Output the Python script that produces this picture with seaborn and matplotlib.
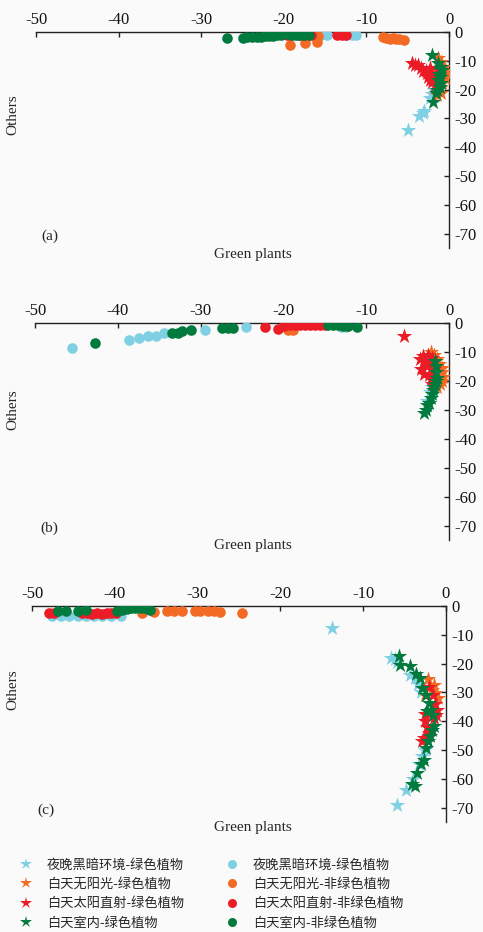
import matplotlib
matplotlib.use("Agg")
import matplotlib.pyplot as plt
from matplotlib.lines import Line2D
import seaborn as sns

# ---- data ----
# panel (a)
a_night_star_x = [-5.0, -3.6, -3.2, -3.0, -2.3, -2.0, -1.8, -1.6]
a_night_star_y = [-34.0, -29.0, -28.0, -27.5, -23.0, -21.5, -20.0, -19.0]
a_nosun_star_x = [-1.3, -1.0, -0.6, -0.4, -0.3, -0.5, -0.8, -1.1, -1.0, -1.4]
a_nosun_star_y = [-9.2, -10.5, -12.0, -13.5, -14.5, -16.0, -17.8, -19.5, -21.3, -22.0]
a_sun_star_x = [-4.5, -4.1, -3.7, -3.4, -3.1, -2.8, -2.7, -2.3, -2.5, -2.3, -2.1, -1.9, -1.7, -2.0, -1.5]
a_sun_star_y = [-10.9, -11.5, -11.4, -12.4, -13.7, -13.5, -14.3, -12.6, -15.5, -16.5, -17.2, -16.0, -18.4, -14.5, -13.0]
a_indoor_star_x = [-2.1, -1.3, -1.0, -0.9, -1.2, -1.1, -1.3, -1.0, -1.1, -1.5, -1.6, -1.9]
a_indoor_star_y = [-8.0, -10.9, -12.0, -13.2, -14.5, -15.5, -16.5, -17.8, -19.0, -20.1, -21.3, -24.2]

a_night_dot_x = [-18.5, -17.8, -17.0, -16.3, -15.5, -14.8, -12.5, -11.8, -11.2]
a_night_dot_y = [-1.0, -0.8, -0.8, -1.0, -1.0, -1.0, -1.0, -1.0, -1.0]
a_nosun_dot_x = [-19.2, -17.4, -16.0, -15.9, -8.0, -7.6, -7.2, -6.8, -6.4, -6.0, -5.5]
a_nosun_dot_y = [-4.5, -3.9, -3.3, -1.5, -1.6, -2.2, -2.4, -2.2, -2.3, -2.5, -2.8]
a_sun_dot_x = [-20.0, -19.6, -19.2, -18.8, -18.2, -17.5, -17.0, -16.7, -13.5, -13.0, -12.5]
a_sun_dot_y = [-0.8, -1.0, -1.0, -0.8, -1.2, -1.0, -0.8, -1.0, -1.0, -1.0, -1.0]
a_indoor_dot_x = [-26.9, -25.0, -24.5, -23.8, -23.3, -22.8, -22.3, -21.8, -21.3, -20.8, -20.3,
                  -19.5, -19.0, -18.5, -18.0, -17.5, -17.0]
a_indoor_dot_y = [-2.1, -2.0, -1.9, -1.8, -1.7, -1.6, -1.5, -1.4, -1.3, -1.2, -1.0,
                  -0.8, -1.0, -1.0, -1.0, -1.0, -1.0]

# panel (b)
b_night_star_x = [-2.3, -2.6, -2.0]
b_night_star_y = [-24.0, -27.0, -22.0]
b_nosun_star_x = [-2.2, -1.8, -1.5, -1.2, -0.9, -0.8, -0.7, -0.9, -1.1, -1.4, -1.6]
b_nosun_star_y = [-10.0, -11.0, -12.5, -14.0, -15.5, -17.0, -18.5, -20.0, -21.0, -22.0, -13.0]
b_sun_star_x = [-5.4, -3.5, -3.2, -2.8, -2.5, -3.4, -3.0, -2.7, -2.4, -2.2, -2.0, -2.3, -2.0, -1.8]
b_sun_star_y = [-4.5, -12.5, -11.5, -13.5, -11.0, -16.0, -17.5, -15.0, -18.0, -19.5, -21.0, -13.0, -12.0, -16.0]
b_indoor_star_x = [-1.7, -1.6, -1.6, -1.5, -1.6, -1.7, -1.8, -1.9, -2.0, -2.2, -2.4, -2.6, -2.8, -3.0]
b_indoor_star_y = [-13.0, -15.0, -17.0, -19.0, -20.0, -21.0, -22.0, -23.0, -24.5, -26.0, -27.5, -28.5, -30.0, -31.0]

b_night_dot_x = [-45.5, -38.6, -37.5, -36.3, -35.4, -34.4, -29.5, -24.5, -13.0, -12.5]
b_night_dot_y = [-8.8, -5.9, -5.1, -4.4, -4.5, -3.4, -2.4, -1.3, -1.5, -1.5]
b_nosun_dot_x = [-19.4, -18.8, -12.8, -12.3]
b_nosun_dot_y = [-2.4, -2.5, -0.8, -1.0]
b_sun_dot_x = [-22.2, -20.6, -19.9, -19.2, -18.6, -18.0, -17.4, -16.8, -16.2, -15.6, -15.0]
b_sun_dot_y = [-1.5, -2.2, -1.0, -0.7, -0.6, -0.6, -0.6, -0.6, -0.6, -0.6, -0.7]
b_indoor_dot_x = [-42.8, -33.5, -32.7, -32.2, -31.1, -27.4, -26.7, -26.1,
                  -14.6, -14.0, -13.4, -12.8, -12.2, -11.1]
b_indoor_dot_y = [-6.8, -3.6, -3.3, -2.9, -2.4, -1.8, -1.8, -1.6,
                  -0.7, -0.7, -0.8, -0.9, -0.9, -1.5]

# panel (c)
c_night_star_x = [-13.8, -6.7, -6.2, -5.9, -4.3, -3.7, -3.4, -3.0, -2.5, -2.9, -3.3, -4.0, -4.8, -5.9]
c_night_star_y = [-7.5, -18.0, -18.5, -19.5, -24.0, -25.0, -27.0, -30.0, -50.0, -52.0, -55.0, -60.0, -64.0, -69.0]
c_nosun_star_x = [-2.2, -1.7, -1.3, -2.5, -1.5, -1.0]
c_nosun_star_y = [-25.3, -29.0, -30.3, -31.0, -27.5, -32.0]
c_sun_star_x = [-2.1, -1.6, -1.3, -1.1, -2.5, -1.5, -2.3, -2.1, -2.7, -2.9, -1.2, -2.5]
c_sun_star_y = [-28.0, -31.0, -34.0, -36.0, -37.5, -39.0, -42.0, -44.0, -46.0, -47.0, -38.0, -40.0]
c_indoor_star_x = [-5.7, -5.5, -4.3, -3.6, -3.2, -2.9, -2.4, -2.1, -1.8, -2.3, -1.6, -1.5, -1.7, -1.9,
                   -2.2, -2.4, -2.7, -3.0, -3.5, -4.1, -3.8]
c_indoor_star_y = [-17.3, -20.5, -21.0, -23.5, -25.0, -28.5, -31.0, -33.7, -36.0, -36.5, -38.0, -41.8, -43.0,
                   -45.3, -47.0, -49.3, -53.4, -55.0, -58.0, -61.7, -62.5]

c_night_dot_x = [-47.6, -46.5, -45.5, -44.5, -43.5, -42.5, -41.5, -40.5, -39.3]
c_night_dot_y = [-3.5, -3.4, -3.5, -3.3, -3.5, -3.4, -3.5, -3.4, -3.3]
c_nosun_dot_x = [-36.7, -35.3, -33.7, -32.9, -31.9, -30.3, -29.7, -28.8, -28.0, -27.3, -24.6]
c_nosun_dot_y = [-2.5, -2.0, -1.6, -1.6, -1.6, -1.8, -1.8, -1.9, -1.9, -2.0, -2.3]
c_sun_dot_x = [-48.0, -47.3, -44.0, -43.4, -42.8, -42.2, -41.6, -41.0, -40.4, -39.9]
c_sun_dot_y = [-2.3, -2.5, -2.5, -2.6, -2.8, -2.6, -2.7, -2.5, -2.6, -2.4]
c_indoor_dot_x = [-46.8, -45.9, -44.4, -43.5, -39.7, -39.1, -38.5, -38.0, -37.5, -37.0, -36.5, -36.0, -35.7]
c_indoor_dot_y = [-1.8, -1.7, -1.6, -1.5, -1.8, -1.3, -1.0, -0.8, -0.8, -0.7, -0.8, -1.0, -1.3]

labels_star = ['夜晚黑暗环境-绿色植物', '白天无阳光-绿色植物', '白天太阳直射-绿色植物', '白天室内-绿色植物']
labels_dot = ['夜晚黑暗环境-绿色植物', '白天无阳光-非绿色植物', '白天太阳直射-非绿色植物', '白天室内-非绿色植物']
colors = ['#7fd0e2', '#f26a24', '#ec1c26', '#007a3d']
panel_tags = ['(a)', '(b)', '(c)']

panels = [
    ([(a_night_star_x, a_night_star_y), (a_nosun_star_x, a_nosun_star_y),
      (a_sun_star_x, a_sun_star_y), (a_indoor_star_x, a_indoor_star_y)],
     [(a_night_dot_x, a_night_dot_y), (a_nosun_dot_x, a_nosun_dot_y),
      (a_sun_dot_x, a_sun_dot_y), (a_indoor_dot_x, a_indoor_dot_y)]),
    ([(b_night_star_x, b_night_star_y), (b_nosun_star_x, b_nosun_star_y),
      (b_sun_star_x, b_sun_star_y), (b_indoor_star_x, b_indoor_star_y)],
     [(b_night_dot_x, b_night_dot_y), (b_nosun_dot_x, b_nosun_dot_y),
      (b_sun_dot_x, b_sun_dot_y), (b_indoor_dot_x, b_indoor_dot_y)]),
    ([(c_night_star_x, c_night_star_y), (c_nosun_star_x, c_nosun_star_y),
      (c_sun_star_x, c_sun_star_y), (c_indoor_star_x, c_indoor_star_y)],
     [(c_night_dot_x, c_night_dot_y), (c_nosun_dot_x, c_nosun_dot_y),
      (c_sun_dot_x, c_sun_dot_y), (c_indoor_dot_x, c_indoor_dot_y)]),
]

sns.set_style("white")
plt.rcParams['font.family'] = ['Liberation Serif', 'Noto Sans CJK SC']
plt.rcParams['axes.unicode_minus'] = False

bg = '#fafafa'
fig = plt.figure(figsize=(4.83, 9.32), dpi=100, facecolor=bg)
W, H = 483, 932
# axes boxes in pixels: left, top, right, bottom
boxes = [(36, 32, 449, 248), (35, 323, 449, 540), (32, 606, 446, 822)]
ylab_pos = [115, 410, 690]

for (stars, dots), (l, t, r, b), tag, ylp in zip(panels, boxes, panel_tags, ylab_pos):
    ax = fig.add_axes([l / W, 1 - b / H, (r - l) / W, (b - t) / H])
    ax.set_facecolor(bg)
    # circles first, stars over them, each in legend order
    for (x, y), c in zip(dots, colors):
        sns.scatterplot(x=x, y=y, ax=ax, marker='o', color=c, s=58, linewidth=0, zorder=3)
    for (x, y), c in zip(stars, colors):
        sns.scatterplot(x=x, y=y, ax=ax, marker='*', color=c, s=135, linewidth=0, zorder=4)
    ax.set_xlim(-50, 0)
    ax.set_ylim(-75, 0)
    ax.set_xticks(range(-50, 1, 10))
    ax.set_yticks(range(-70, 1, 10))
    ax.xaxis.tick_top()
    ax.yaxis.tick_right()
    for side in ['left', 'bottom']:
        ax.spines[side].set_visible(False)
    for side in ['top', 'right']:
        ax.spines[side].set_linewidth(1.0)
        ax.spines[side].set_color('#222222')
    ax.tick_params(direction='in', length=3.5, width=1.0, labelsize=12, pad=3, colors='#222222',
                   labelcolor='#111111')
    ax.tick_params(axis='y', pad=4)
    ax.set_xlabel('')
    ax.set_ylabel('')
    ax.text(0.012, 0.055, tag, transform=ax.transAxes, fontsize=11, ha='left', va='center')
    fig.text(253 / W, 1 - (b + 6) / H, 'Green plants', fontsize=11, ha='center', va='center')
    fig.text(13 / W, 1 - ylp / H, 'Others', fontsize=11, rotation=90, ha='center', va='center')

handles = [Line2D([], [], linestyle='none', marker='*', color=c, markersize=9, markeredgewidth=0)
           for c in colors]
handles += [Line2D([], [], linestyle='none', marker='o', color=c, markersize=6.5, markeredgewidth=0)
            for c in colors]
fig.legend(handles, labels_star + labels_dot, ncol=2, loc='upper left',
           bbox_to_anchor=(13 / W, 1 - 852 / H), frameon=False, borderpad=0,
           handlelength=1.0, handletextpad=1.07, labelspacing=0.48, columnspacing=3.15,
           prop={'family': 'Noto Sans CJK SC', 'size': 9.5})

fig.savefig('out.png', dpi=100, facecolor=bg)
